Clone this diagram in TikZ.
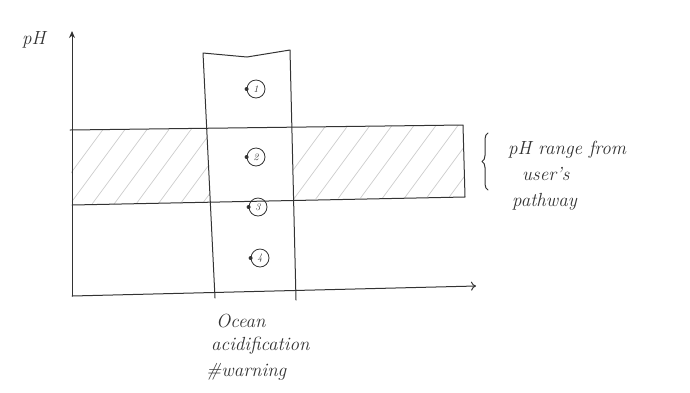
\documentclass[tikz,border=0pt]{standalone}
\usetikzlibrary{arrows.meta,decorations.pathreplacing}
\definecolor{pencil}{HTML}{333333}
\definecolor{hatch}{HTML}{CCCCCC}
\tikzset{
  pen/.style={draw=pencil, line width=1pt, line cap=round, line join=round},
  hand/.style={text=pencil, font=\fontsize{19}{25}\selectfont\itshape, inner sep=0pt},
  numc/.style={circle, draw=pencil, line width=0.8pt, minimum size=18pt, inner sep=0pt, text=pencil, font=\fontsize{10}{10}\selectfont\itshape},
  pdot/.style={circle, fill=pencil, minimum size=4pt, inner sep=0pt},
}
\begin{document}
\begin{tikzpicture}[x=1pt,y=-1pt]
\useasboundingbox (0,0) rectangle (690,392);
% axes
\coordinate (O) at (72,296);
\coordinate (ytip) at (72,31);
\coordinate (xtip) at (476,286);
% band corners
\coordinate (b1) at (70,130);
\coordinate (b2) at (463,125);
\coordinate (b3) at (465,197);
\coordinate (b4) at (72,205);
% column corners
\coordinate (c1) at (203,53);
\coordinate (cm) at (247,57);
\coordinate (c2) at (290,50);
\coordinate (c3) at (296,300);
\coordinate (c4) at (215,298);
% hatching (outside the column)
\begin{scope}
  \clip (b1) -- (207,129) -- (211,203) -- (b4) -- cycle;
  \foreach \i in {0,...,22} {\draw[hatch, line width=0.7pt] (40+\i*22,215) -- (110+\i*22,120);}
\end{scope}
\begin{scope}
  \clip (292,127) -- (b2) -- (b3) -- (294,199) -- cycle;
  \foreach \i in {0,...,14} {\draw[hatch, line width=0.7pt] (260+\i*22,215) -- (330+\i*22,120);}
\end{scope}
% band
\draw[pen] (b1) -- (b2) -- (b3) -- (b4);
% column
\draw[pen] (c4) -- (c1) -- (cm) -- (c2) -- (c3);
% axes
\draw[pen, -{Stealth[length=7pt,width=6pt]}] (O) -- (ytip);
\draw[pen, -{To[length=5pt,width=9pt]}] (O) -- (xtip);
% labels
\node[hand, anchor=west] (ph) at (22,40) {pH};
% markers
\node[numc] (m1) at (256,89) {1};
\node[pdot] (d1) at (m1.west) {};
\node[numc] (m2) at (256,157) {2};
\node[pdot] (d2) at (m2.west) {};
\node[numc] (m3) at (258,207) {3};
\node[pdot] (d3) at (m3.west) {};
\node[numc] (m4) at (260,258) {4};
\node[pdot] (d4) at (m4.west) {};
% brace and its text
\coordinate (bt) at (488,133);
\coordinate (bb) at (488,190);
\draw[pen, decorate, decoration={brace, mirror, amplitude=6pt}] (bt) -- (bb);
\node[hand, anchor=west] (r1) at (508,150) {pH range from};
\node[hand, anchor=west] (r2) at (522,174) {user's};
\node[hand, anchor=west] (r3) at (512,202) {pathway};
% bottom text
\node[hand, anchor=west] (t1) at (216,321) {Ocean};
\node[hand, anchor=west] (t2) at (211,346) {acidification};
\node[hand, anchor=west] (t3) at (206,372) {\#warning};
\end{tikzpicture}
\end{document}
